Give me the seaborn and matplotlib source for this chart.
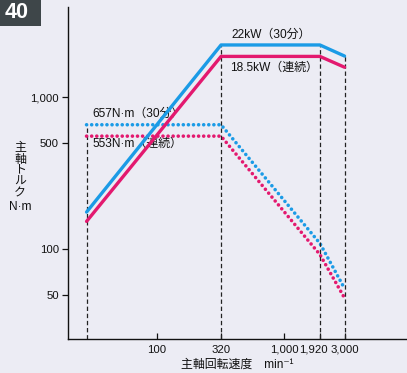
import matplotlib
matplotlib.use("Agg")
import matplotlib.pyplot as plt
import matplotlib.transforms as mtransforms
from matplotlib.patches import Rectangle
import seaborn as sns
import pandas as pd

# Spindle characteristics: speed (min-1) vs torque (N·m) and output (kW)
speed = [28, 320, 1920, 3000]
torque_30min = [657, 657, 109, 55]
torque_cont = [553, 553, 92, 47.6]
power_30min = [1.75, 22, 22, 18.6]
power_cont = [1.52, 18.5, 18.5, 15.7]

xticks = [100, 320, 1000, 1920, 3000]
xtick_labels = ["100", "320", "1,000", "1,920", "3,000"]
yticks = [50, 100, 500, 1000]
ytick_labels = ["50", "100", "500", "1,000"]

BLUE = "#1B9BE6"
PINK = "#E3196F"
BG = "#ECECF4"
INK = "#111111"

sns.set_theme(style="white")
plt.rcParams["font.family"] = ["Liberation Sans", "Noto Sans CJK JP", "DejaVu Sans"]

W, H = 407, 373
fig = plt.figure(figsize=(W / 100, H / 100), dpi=100, facecolor=BG)
ax = fig.add_axes([68 / W, 34 / H, (W - 68) / W, (339 - 7) / H])
ax.set_facecolor(BG)

ax.set_xscale("log")
ax.set_yscale("log")
ax.set_xlim(20, 9300)
ylo, yhi = 25.6, 3910
ax.set_ylim(ylo, yhi)

# output axis: same decades, 1 kW at the height of 100 N·m
ax2 = ax.twinx()
ax2.set_yscale("log")
ax2.set_ylim(ylo / 100, yhi / 100)
ax2.set_position(ax.get_position())
ax2.axis("off")

df_t30 = pd.DataFrame({"speed": speed, "value": torque_30min})
df_tc = pd.DataFrame({"speed": speed, "value": torque_cont})
df_p30 = pd.DataFrame({"speed": speed, "value": power_30min})
df_pc = pd.DataFrame({"speed": speed, "value": power_cont})

sns.lineplot(data=df_t30, x="speed", y="value", ax=ax, color=BLUE, lw=2.4,
             estimator=None, sort=False, zorder=4)
sns.lineplot(data=df_tc, x="speed", y="value", ax=ax, color=PINK, lw=2.4,
             estimator=None, sort=False, zorder=4)
# torque curves are dotted
for line in ax.get_lines():
    line.set_linestyle((0, (0.01, 1.4)))
    line.set_dash_capstyle("round")
    line.set_linewidth(2.6)

sns.lineplot(data=df_p30, x="speed", y="value", ax=ax2, color=BLUE, lw=2.4,
             estimator=None, sort=False, zorder=4)
sns.lineplot(data=df_pc, x="speed", y="value", ax=ax2, color=PINK, lw=2.4,
             estimator=None, sort=False, zorder=4)

# dashed guide lines at the characteristic speeds
dash = (0, (3.5, 2.2))
ax.vlines(speed[0], ylo, torque_30min[0], colors="#222222", lw=0.9, linestyles=[dash], zorder=2)
ax2.vlines(speed[1:], ylo / 100, power_30min[1:], colors="#222222", lw=0.9,
           linestyles=[dash], zorder=2)

# axes styling
for side in ("top", "right"):
    ax.spines[side].set_visible(False)
for side in ("left", "bottom"):
    ax.spines[side].set_color(INK)
    ax.spines[side].set_linewidth(1.0)
ax.set_xticks(xticks)
ax.set_xticklabels(xtick_labels)
ax.set_yticks(yticks)
ax.set_yticklabels(ytick_labels)
ax.minorticks_off()
ax.tick_params(axis="x", direction="in", length=4, width=0.9, pad=4, labelsize=8.2,
               colors=INK, bottom=True)
ax.tick_params(axis="y", direction="out", length=4, width=0.9, pad=2.5, labelsize=8.2,
               colors=INK, left=True)
# nudge the crowded 1,920 label to the left
lbl = ax.get_xticklabels()[3]
lbl.set_transform(lbl.get_transform() + mtransforms.ScaledTranslation(-7 / 100, 0, fig.dpi_scale_trans))

ax.set_ylabel("")
ax.set_xlabel("主軸回転速度　min⁻¹", fontsize=8.6, labelpad=3, color=INK)

# curve annotations
def note(axis, x, y, text, dx, dy):
    axis.annotate(text, xy=(x, y), xytext=(dx, dy), textcoords="offset pixels",
                  ha="left", va="center", fontsize=8.6, color=INK, zorder=6)

note(ax2, speed[1], power_30min[1], f"{power_30min[1]:g}kW（30分）", 10, 10)
note(ax2, speed[1], power_cont[1], f"{power_cont[1]:g}kW（連続）", 9, -11)
note(ax, speed[0], torque_30min[0], f"{torque_30min[0]}N·m（30分）", 6, 10.5)
note(ax, speed[0], torque_cont[0], f"{torque_cont[0]}N·m（連続）", 6, -8)

# vertical axis title, one character per line
ylabel_chars = list("主軸トルク")
for i, ch in enumerate(ylabel_chars):
    fig.text(20 / W, 1 - (148.5 + 11.2 * i) / H, ch, ha="center", va="center",
             fontsize=8.6, color=INK)
fig.text(20 / W, 1 - 207 / H, "N·m", ha="center", va="center", fontsize=8.6, color=INK)

# page badge
fig.patches.append(Rectangle((0, 1 - 26 / H), 41 / W, 26 / H, transform=fig.transFigure,
                             facecolor="#3E4649", edgecolor="none", zorder=0))
fig.text(17 / W, 1 - 12.5 / H, "40", ha="center", va="center", fontsize=15.5,
         fontweight="bold", color="white")

fig.savefig("out.png", dpi=100, facecolor=BG)
